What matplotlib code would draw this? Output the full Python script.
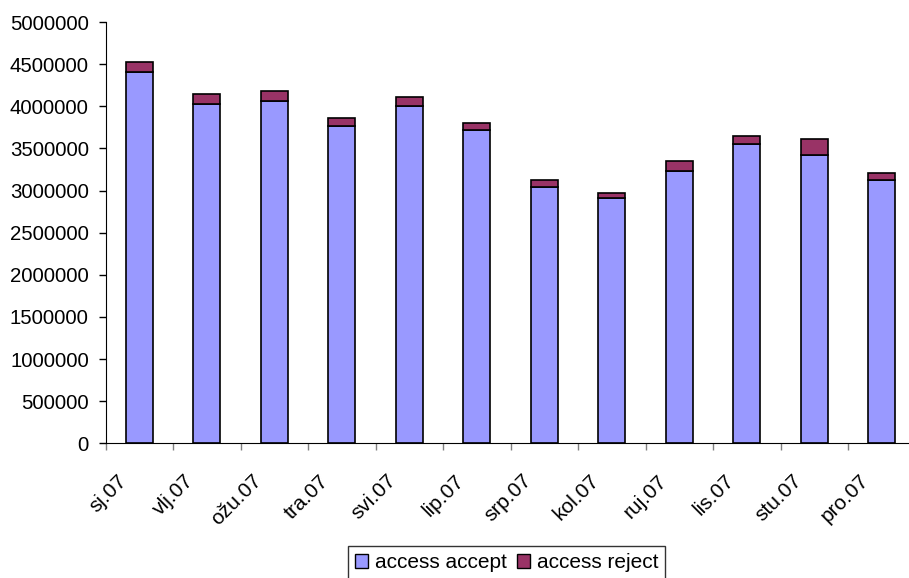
import matplotlib
matplotlib.use("Agg")
import matplotlib.pyplot as plt
import matplotlib.transforms as mtransforms
from matplotlib.patches import Patch
import numpy as np

plt.rcParams['font.family'] = ['Liberation Sans', 'DejaVu Sans']

months = ["sj.07", "vlj.07", "ožu.07", "tra.07", "svi.07", "lip.07",
          "srp.07", "kol.07", "ruj.07", "lis.07", "stu.07", "pro.07"]
access_accept = [4406000, 4026000, 4062000, 3761000, 4006000, 3721000,
                 3040000, 2910000, 3230000, 3555000, 3424000, 3120000]
access_reject = [119000, 119000, 118000, 99000, 100000, 76000,
                 84000, 56000, 116000, 91000, 186000, 90000]
yticks = [0, 500000, 1000000, 1500000, 2000000, 2500000, 3000000,
          3500000, 4000000, 4500000, 5000000]

W, H = 909, 578
fig = plt.figure(figsize=(W / 100, H / 100), dpi=100)
ax = fig.add_axes([105.5 / W, (H - 443.3) / H, (915.5 - 105.5) / W, (443.3 - 22) / H])

x = np.arange(len(months))
c_acc = "#9999FF"
c_rej = "#993366"
ax.bar(x, access_accept, width=0.4, color=c_acc, edgecolor="black", linewidth=1.2, zorder=2)
ax.bar(x, access_reject, width=0.4, bottom=access_accept, color=c_rej,
       edgecolor="black", linewidth=1.2, zorder=2)

ax.set_xlim(-0.5, len(months) - 0.5)
ax.set_ylim(0, 5000000)
ax.set_yticks(yticks)
ax.set_yticklabels([str(v) for v in yticks], fontsize=14.7)
ax.tick_params(axis='y', length=5, width=1, pad=7, colors='black')

ax.set_xticks(np.arange(-0.5, len(months)), minor=False)
ax.set_xticklabels([""] * (len(months) + 1))
ax.set_xticks(x, minor=True)
ax.set_xticklabels(months, minor=True, fontsize=15, rotation=45, ha='right', va='top')
ax.tick_params(axis='x', which='major', length=5, width=1, color='#808080')
ax.tick_params(axis='x', which='minor', length=0, pad=20)
offset = mtransforms.ScaledTranslation(-9 / 100, 0, fig.dpi_scale_trans)
for lbl in ax.xaxis.get_minorticklabels():
    lbl.set_transform(lbl.get_transform() + offset)

for s in ['top', 'right']:
    ax.spines[s].set_visible(False)
ax.spines['left'].set_color('black')
ax.spines['bottom'].set_color('black')

handles = [Patch(facecolor=c_acc, edgecolor='black', label='access accept'),
           Patch(facecolor=c_rej, edgecolor='black', label='access reject')]
leg = fig.legend(handles=handles, loc='upper center', ncol=2,
                 bbox_to_anchor=(506.5 / W, (H - 546) / H), fontsize=15,
                 frameon=True, fancybox=False, edgecolor='black',
                 handlelength=0.65, handleheight=0.65, handletextpad=0.3,
                 columnspacing=0.5, borderpad=0.35, borderaxespad=0)
leg.get_frame().set_linewidth(1)

fig.savefig("out.png", dpi=100)
